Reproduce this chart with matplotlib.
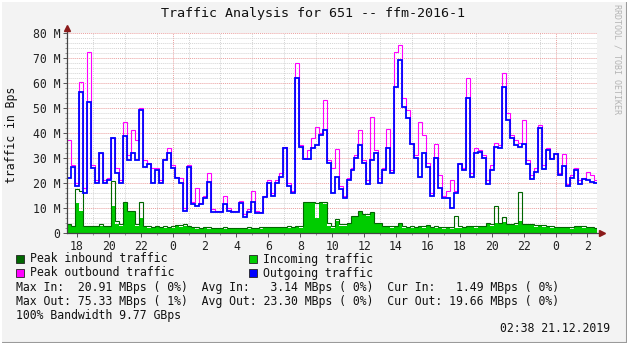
import numpy as np
import matplotlib
matplotlib.use("Agg")
from matplotlib import pyplot as plt
from matplotlib.ticker import MultipleLocator, FixedLocator
from matplotlib.patches import Rectangle
from matplotlib.lines import Line2D

# samples every 15 min, hours relative to midnight 20.12.
start_hour = -6.6
step_hours = 0.25

# outgoing traffic (M)
outgoing = [22, 26.5, 19, 56.5, 16, 52.5, 26, 20, 32, 20, 21, 38, 24, 20, 38.6, 29, 32, 29, 49, 26.5,
            27.5, 20, 25, 20, 29, 32, 26, 22, 20, 9, 26.5, 11.5, 11, 11.5, 14, 20.5, 8.5, 8.5, 8.5, 11.5,
            9, 8.5, 8.5, 12, 6.5, 8.5, 12.5, 8, 8, 14.5, 20, 15, 20, 22.5, 34, 19, 16, 62, 34.5, 29.5,
            29.5, 34, 35, 39, 41, 28, 16, 22.5, 17.5, 14, 21, 25, 30, 35, 28, 19.7, 29, 32, 20, 25,
            34, 24, 58.5, 69, 50.5, 46, 35.5, 30, 22.5, 32, 26.5, 15, 30, 18, 14, 14, 10, 16, 27.5, 25,
            54, 22.5, 32, 32.5, 30, 19.7, 25, 34.5, 34, 58.5, 45, 38, 35, 34.5, 35.5, 27.5, 21.5, 24.5, 42, 25.5,
            33, 29.5, 31.5, 23.3, 26.6, 18.6, 22, 25, 19.7, 21.5, 21, 20.5, 20]
# peak outbound traffic (M)
peak_out = [37, 27, 20, 60.5, 18, 72.5, 27, 21, 32, 21, 22, 38, 26, 21, 44.5, 31, 41, 37, 50, 29,
            28, 26, 26, 21, 29.5, 34, 27, 22.5, 22, 10, 27, 12.5, 18, 12, 15, 24, 9.5, 9, 9, 15,
            10, 9, 9, 13, 7.5, 9.5, 17, 9, 8.5, 15, 21, 16, 21, 24, 34.5, 20, 17, 68, 35, 30,
            33, 38, 42.5, 40, 53, 29, 26, 33.5, 19, 15, 22, 26, 31, 41, 29, 21, 46.3, 33, 22, 26,
            41.5, 25, 72.5, 75.3, 54, 49, 36, 31, 44.5, 39, 28, 16, 35.5, 23, 15, 17, 21, 17, 28, 26,
            62, 24, 34, 33, 31, 21, 27, 36, 35, 64, 48, 39, 37, 36, 45, 29, 23, 26, 43, 27,
            34, 30, 32, 24, 31.5, 19.5, 23, 26, 21, 22, 24.5, 23, 21]
# incoming traffic (M)
incoming = [3.2, 2.5, 12, 9, 2.5, 2.3, 2.5, 2.3, 2.8, 2.3, 2.5, 11, 3.5, 3, 12, 8.5, 8.5, 3, 6, 2.5,
            2.2, 2, 2.3, 2, 2.2, 2, 2.2, 2.8, 2.6, 3, 2.5, 2, 1.8, 1.7, 1.9, 1.8, 1.6, 1.7, 1.6, 1.8,
            1.7, 1.6, 1.5, 1.7, 1.6, 1.8, 1.7, 1.6, 1.8, 2, 1.9, 2, 2.1, 2, 2, 2.2, 2, 2.3, 2.2, 12,
            12, 12, 6, 12, 11.8, 3, 2.2, 5, 3, 3, 3.5, 6.5, 6.5, 8.5, 7.2, 7, 8, 3.6, 3.6, 2.5,
            2.5, 2.2, 2.5, 3.5, 2.2, 2, 2.2, 2, 2.3, 2.2, 2.8, 2, 2.2, 2, 1.8, 2, 1.8, 2, 2.2, 2,
            2.3, 2.5, 2.2, 2.4, 2.3, 3.5, 3, 4, 3.5, 4.5, 3.3, 3.3, 3.4, 4.7, 3.3, 3.3, 3.2, 2.6, 2.7, 2.6,
            2.5, 2.2, 2, 2.1, 2, 2, 1.8, 2.3, 2.4, 2.2, 2, 2.1, 1.5]
# peak inbound traffic (M)
peak_in = [3.5, 3, 17.5, 17, 3, 2.8, 3, 2.8, 3.5, 2.8, 3, 20.9, 5, 3.5, 12.5, 9, 9, 3.5, 12.5, 3,
           2.7, 2.5, 2.8, 2.5, 2.7, 2.5, 2.7, 3.3, 3.1, 3.5, 3, 2.5, 2.3, 2.2, 2.4, 2.3, 2.1, 2.2, 2.1, 2.3,
           2.2, 2.1, 2, 2.2, 2.1, 2.3, 2.2, 2.1, 2.3, 2.5, 2.4, 2.5, 2.6, 2.5, 2.5, 2.7, 2.5, 2.8, 2.7, 12.5,
           12.5, 12.5, 12, 12.3, 12.3, 4, 2.7, 5.5, 3.5, 3.5, 4, 7, 7, 9, 7.5, 7.5, 8.5, 4, 4, 3,
           3, 2.7, 3, 4, 2.7, 2.5, 2.7, 2.5, 2.8, 2.7, 3.3, 2.5, 2.7, 2.5, 2.3, 2.5, 2.3, 6.8, 2.7, 2.5,
           2.8, 3, 2.7, 2.9, 2.8, 4, 3.5, 11, 4, 6.5, 3.8, 3.8, 3.9, 16.3, 3.8, 3.8, 3.7, 3.1, 3.2, 3.1,
           3, 2.7, 2.5, 2.6, 2.5, 2.5, 2.3, 2.8, 2.9, 2.7, 2.5, 2.6, 2]

y_ticks = [0, 10, 20, 30, 40, 50, 60, 70, 80]
y_labels = ["0", "10 M", "20 M", "30 M", "40 M", "50 M", "60 M", "70 M", "80 M"]
x_ticks = list(range(-6, 27, 2))
x_labels = [str(h % 24) for h in x_ticks]

legend_items = [("Peak inbound traffic", "#006600"), ("Incoming traffic", "#00cc00"),
                ("Peak outbound traffic", "#ff00ff"), ("Outgoing traffic", "#0000ff")]
stats_lines = ["Max In:  20.91 MBps ( 0%)  Avg In:   3.14 MBps ( 0%)  Cur In:   1.49 MBps ( 0%)",
               "Max Out: 75.33 MBps ( 1%)  Avg Out: 23.30 MBps ( 0%)  Cur Out: 19.66 MBps ( 0%)",
               "100% Bandwidth 9.77 GBps"]

W, H = 627, 343
MONO = "DejaVu Sans Mono"
FS = 8.3


def px(x, y):
    return x / W, 1 - y / H


fig = plt.figure(figsize=(W / 100, H / 100), dpi=100)
fig.patch.set_facecolor("#f3f3f3")
ax = fig.add_axes([67 / W, (H - 233) / H, (597 - 67) / W, 200 / H])
ax.set_facecolor("white")

edges = start_hour + step_hours * np.arange(len(outgoing) + 1)
ax.stairs(incoming, edges, fill=True, color="#00cc00", baseline=0, zorder=2)
ax.stairs(peak_in, edges, color="#006600", lw=0.8, baseline=None, zorder=3)
ax.stairs(peak_out, edges, color="#ff00ff", lw=0.8, baseline=None, zorder=4)
ax.stairs(outgoing, edges, color="#0000ff", lw=1.3, baseline=None, zorder=5)

ax.set_xlim(-6.62, 26.6)
ax.set_ylim(0, 80)

# grids
ax.yaxis.set_minor_locator(MultipleLocator(2))
ax.xaxis.set_minor_locator(MultipleLocator(1))
ax.grid(which="minor", color="#d4d4d4", linestyle=(0, (1, 1)), lw=0.7, zorder=0)
ax.grid(which="major", axis="y", color="#eaa0a0", linestyle=(0, (1, 1)), lw=0.7, zorder=1)
for h in (0, 24):
    ax.axvline(h, color="#eaa0a0", linestyle=(0, (1, 1)), lw=0.7, zorder=1)

ax.set_yticks(y_ticks)
ax.set_yticklabels(y_labels, fontfamily=MONO, fontsize=FS)
ax.xaxis.set_major_locator(FixedLocator(x_ticks))
ax.set_xticklabels(x_labels, fontfamily=MONO, fontsize=FS)
ax.tick_params(which="major", length=3, width=0.7, color="#555555", pad=2, labelcolor="#222222")
ax.tick_params(which="minor", length=1.5, width=0.6, color="#888888")
for s in ax.spines.values():
    s.set_visible(False)

# axes with arrows
ax.plot([0, 0], [0, 1.02], transform=ax.transAxes, color="#444444", lw=0.9, clip_on=False, zorder=6)
ax.plot([0, 1.008], [0, 0], transform=ax.transAxes, color="#444444", lw=0.9, clip_on=False, zorder=6)
ax.plot([0], [1.025], transform=ax.transAxes, marker="^", ms=4, color="#8b1a1a", clip_on=False, zorder=7)
ax.plot([1.01], [0], transform=ax.transAxes, marker=">", ms=4, color="#8b1a1a", clip_on=False, zorder=7)

fig.text(*px(313, 13), "Traffic Analysis for 651 -- ffm-2016-1", ha="center", va="center",
         fontfamily=MONO, fontsize=9.6, color="#111111")
fig.text(*px(12, 135), "traffic in Bps", rotation=90, ha="center", va="center",
         fontfamily=MONO, fontsize=FS, color="#111111")
fig.text(*px(617, 4), "RRDTOOL / TOBI OETIKER", rotation=270, ha="center", va="top",
         fontfamily=MONO, fontsize=6, color="#b4b4b4")

# legend
for k, (name, col) in enumerate(legend_items):
    bx = 16 if k % 2 == 0 else 249
    by = 259 + 14 * (k // 2)
    fig.add_artist(Rectangle(px(bx, by + 4), 8 / W, 8 / H, facecolor=col, edgecolor="#222222",
                             lw=0.6, transform=fig.transFigure))
    fig.text(*px(bx + 14, by), name, ha="left", va="center", fontfamily=MONO, fontsize=FS, color="#111111")
for k, line in enumerate(stats_lines):
    fig.text(*px(16, 287 + 14 * k), line, ha="left", va="center", fontfamily=MONO, fontsize=FS,
             color="#111111")
fig.text(*px(610, 329), "02:38 21.12.2019", ha="right", va="center", fontfamily=MONO, fontsize=FS,
         color="#111111")

# frame
fig.add_artist(Line2D([0, 1], [0.5 / H, 0.5 / H], color="#9a9a9a", lw=1.5, transform=fig.transFigure))
fig.add_artist(Line2D([1 - 0.5 / W, 1 - 0.5 / W], [0, 1], color="#9a9a9a", lw=1.5, transform=fig.transFigure))
fig.add_artist(Line2D([0, 1], [1 - 0.5 / H, 1 - 0.5 / H], color="#ffffff", lw=1.5, transform=fig.transFigure))
fig.add_artist(Line2D([0.5 / W, 0.5 / W], [0, 1], color="#ffffff", lw=1.5, transform=fig.transFigure))

fig.savefig("out.png", dpi=100, facecolor=fig.get_facecolor())
